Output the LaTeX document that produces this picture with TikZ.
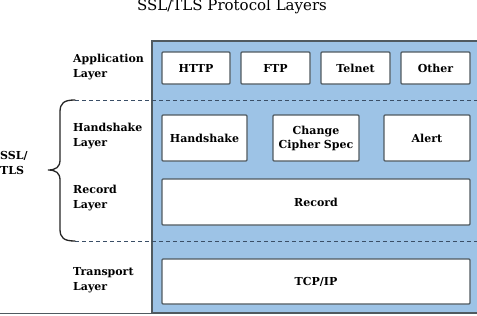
\documentclass[tikz,border=0pt]{standalone}
\usepackage{fontspec}
\setmainfont{DejaVu Serif}
\definecolor{layerblue}{HTML}{9DC3E6}
\definecolor{boxline}{HTML}{505A60}
\definecolor{dashline}{HTML}{3A4E66}
\begin{document}
\begin{tikzpicture}[x=1pt,y=-1pt,
  protobox/.style={draw=boxline,line width=1.2pt,fill=white,rounded corners=1pt,font=\bfseries\fontsize{11}{14}\selectfont,align=center,inner sep=0pt},
  layerlabel/.style={anchor=west,align=left,font=\bfseries\fontsize{11}{15}\selectfont,inner sep=0pt},
  layerdash/.style={dashline,dashed,dash pattern=on 4pt off 3pt,line width=1pt}]
\useasboundingbox (0,0) rectangle (477,316);
\begin{scope}
\clip (0,0) rectangle (477,316);
\fill[white] (0,0) rectangle (477,316);
\draw[boxline,line width=1.2pt,fill=layerblue] (152,41) rectangle (490,313);
\draw[layerdash] (75,100) -- (477,100);
\draw[layerdash] (75,241) -- (477,241);
\draw[boxline,line width=1.8pt] (0,313.5) -- (477,313.5);
% brace
\draw[black!85,line width=1.3pt,line cap=round]
  (75,100) .. controls (64,100) and (60,103) .. (60,112)
  -- (60,160) .. controls (60,167) and (56,170) .. (48,170)
  .. controls (56,170) and (60,173) .. (60,180)
  -- (60,229) .. controls (60,238) and (64,241) .. (75,241);
\end{scope}
\node[font=\fontsize{15}{16}\selectfont] (title) at (232,6) {SSL/TLS Protocol Layers};
\node[protobox,minimum width=68pt,minimum height=32pt] (http) at (196,68) {HTTP};
\node[protobox,minimum width=69pt,minimum height=32pt] (ftp) at (275.5,68) {FTP};
\node[protobox,minimum width=69pt,minimum height=32pt] (telnet) at (355.5,68) {Telnet};
\node[protobox,minimum width=69pt,minimum height=32pt] (other) at (435.5,68) {Other};
\node[protobox,minimum width=85pt,minimum height=46pt] (hs) at (204.5,138) {Handshake};
\node[protobox,minimum width=86pt,minimum height=46pt] (ccs) at (316,138) {Change\\Cipher Spec};
\node[protobox,minimum width=86pt,minimum height=46pt] (alert) at (427,138) {Alert};
\node[protobox,minimum width=308pt,minimum height=46pt] (record) at (316,202) {Record};
\node[protobox,minimum width=308pt,minimum height=45pt] (tcp) at (316,281.5) {TCP/IP};
\node[layerlabel] (app) at (73,67) {Application\\Layer};
\node[layerlabel] (hsl) at (73,136) {Handshake\\Layer};
\node[layerlabel] (recl) at (73,198.5) {Record\\Layer};
\node[layerlabel] (trl) at (73,280.5) {Transport\\Layer};
\node[layerlabel] (ssl) at (0,162.5) {SSL/\\TLS};
\end{tikzpicture}
\end{document}
